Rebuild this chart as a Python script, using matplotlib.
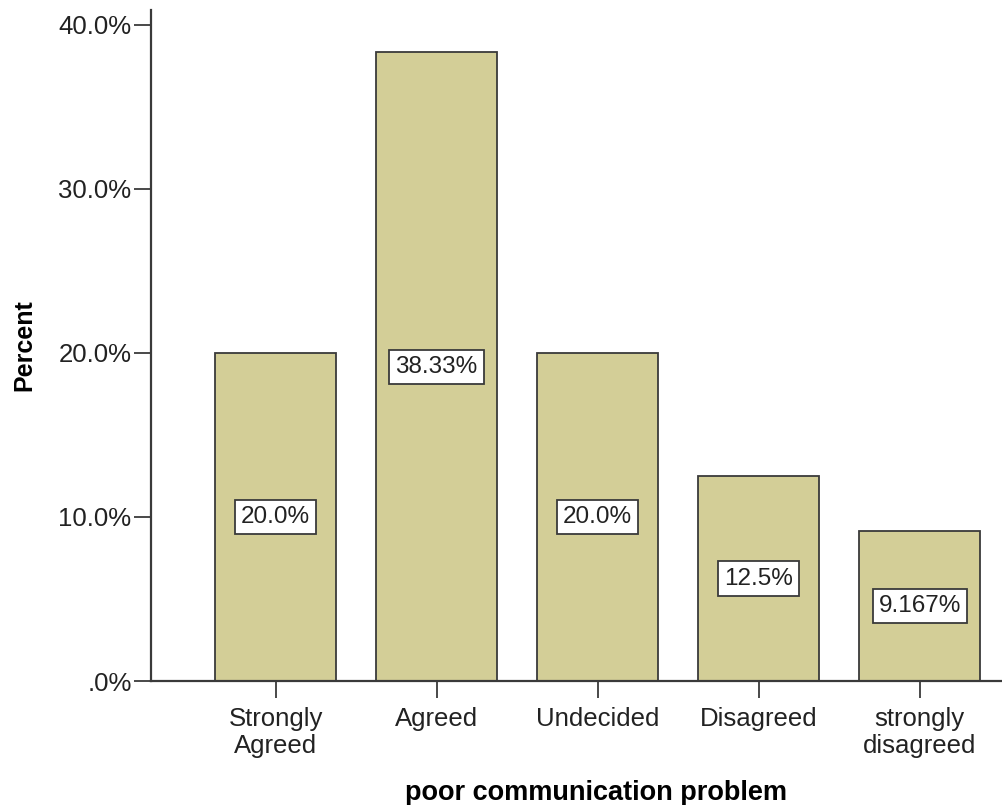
import matplotlib.pyplot as plt
from matplotlib.ticker import FuncFormatter

plt.rcParams['font.family'] = ['Liberation Sans', 'DejaVu Sans']

# Antwortverteilung
categories = ['Strongly\nAgreed', 'Agreed', 'Undecided', 'Disagreed', 'strongly\ndisagreed']
percent = [20.0, 38.33, 20.0, 12.5, 9.167]
value_labels = ['20.0%', '38.33%', '20.0%', '12.5%', '9.167%']
y_ticks = [0, 10, 20, 30, 40]

bar_color = '#d3ce97'
edge_color = '#3a3a3a'
text_color = '#222222'

fig = plt.figure(figsize=(10.02, 8.05), dpi=100)
ax = fig.add_axes([0.1507, 0.154, 0.8493, 0.8336])

x = list(range(len(categories)))
ax.bar(x, percent, width=0.75, color=bar_color, edgecolor=edge_color, linewidth=1.3)

# Wertbeschriftung mittig im Balken
for xi, val, lab in zip(x, percent, value_labels):
    ax.text(xi, val / 2, lab, ha='center', va='center', fontsize=17.5, color=text_color,
            bbox=dict(boxstyle='square,pad=0.25', facecolor='white',
                      edgecolor=edge_color, linewidth=1.3))

ax.set_xlim(-0.773, 4.51)
ax.set_ylim(0, 40.91)
ax.set_xticks(x)
ax.set_xticklabels(categories, fontsize=18.5, color=text_color, linespacing=1.12)
ax.set_yticks(y_ticks)
ax.yaxis.set_major_formatter(FuncFormatter(lambda v, p: '.0%' if v == 0 else f'{v:.1f}%'))
ax.tick_params(axis='y', labelsize=18.5, labelcolor=text_color, length=12.5, width=1.3,
               color=edge_color, pad=1.5)
ax.tick_params(axis='x', length=12.5, width=1.3, color=edge_color, pad=6.5)

for side in ['top', 'right']:
    ax.spines[side].set_visible(False)
for side in ['left', 'bottom']:
    ax.spines[side].set_color(edge_color)
    ax.spines[side].set_linewidth(1.6)

ax.set_xlabel('poor communication problem', fontsize=19.5, fontweight='bold')
ax.xaxis.set_label_coords(0.523, -0.147)
ax.set_ylabel('Percent', fontsize=18, fontweight='bold', labelpad=16)

fig.savefig('out.png', dpi=100)
